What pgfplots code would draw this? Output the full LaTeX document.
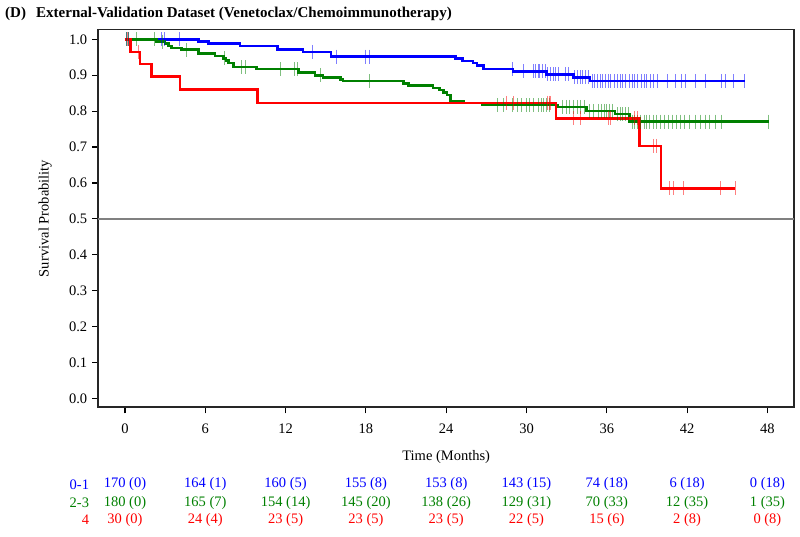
\documentclass[border=0pt]{standalone}
\usepackage{fontspec}
\setmainfont{Liberation Serif}
\usepackage{pgfplots}
\pgfplotsset{compat=1.18}
\definecolor{kmblue}{RGB}{0,0,255}
\definecolor{kmgreen}{RGB}{0,128,0}
\definecolor{kmred}{RGB}{255,0,0}

\begin{document}
\fontsize{14.5}{17}\selectfont
\begin{tikzpicture}
\begin{axis}[
  name=ax, at={(0,0)}, anchor=south west,
  width=696pt, height=377.6pt, scale only axis,
  xmin=-2, xmax=50, ymin=-0.025, ymax=1.027,
  xtick={0,6,12,18,24,30,36,42,48},
  ytick={0,0.1,0.2,0.3,0.4,0.5,0.6,0.7,0.8,0.9,1.0},
  yticklabel style={/pgf/number format/.cd, fixed, fixed zerofill, precision=1},
  xticklabel style={yshift=-6pt},
  /pgf/number format/assume math mode=true,
  tick align=outside, tick pos=left,
  major tick length=6pt,
  tick style={black, line width=1.2pt},
  axis line style={black!85, line width=1.6pt},
  clip=false,
  ylabel={Survival Probability},
  ylabel style={at={(rel axis cs:0,0.5)}, anchor=center, yshift=53pt},
  xlabel={Time (Months)},
  xlabel style={at={(rel axis cs:0.5,0)}, anchor=center, yshift=-49.5pt},
  censor/.style={only marks, mark=|, mark size=7pt, opacity=0.5, mark options={line width=1pt}},
]
% reference line
\addplot[gray, line width=1.3pt] coordinates {(-2,0.5) (50,0.5)};

% 0-1
\addplot[kmblue, const plot, line width=2.6pt] coordinates {
(0,1) (5.48,0.994) (6.23,0.988) (8.6,0.982) (11.4,0.971) (13.3,0.965) (15.4,0.952)
(24.7,0.946) (25.2,0.940) (26.0,0.934) (26.3,0.928) (26.8,0.917) (29.0,0.911)
(31.5,0.903) (33.5,0.894) (34.75,0.884) (46.3,0.884)};
\addplot[kmblue, censor] coordinates {
(0.1,1) (0.25,1) (2.74,1) (2.99,1) (4.06,1) (14.0,0.965) (15.8,0.952) (18.0,0.952) (18.3,0.952)
(28.95,0.917) (29.8,0.911) (30.5,0.911) (30.7,0.911) (30.9,0.911) (31.0,0.911) (31.2,0.911) (31.4,0.911)
(31.6,0.903) (31.8,0.903) (32.0,0.903) (32.2,0.903) (32.4,0.903) (32.9,0.903) (33.1,0.903)
(33.6,0.894) (33.8,0.894) (34.0,0.894) (34.2,0.894) (34.4,0.894) (34.6,0.894)
(34.9,0.884) (35.1,0.884) (35.3,0.884) (35.5,0.884) (35.7,0.884) (35.9,0.884) (36.1,0.884) (36.3,0.884)
(36.6,0.884) (36.8,0.884) (37.0,0.884) (37.2,0.884) (37.4,0.884) (37.7,0.884) (37.9,0.884) (38.1,0.884)
(38.3,0.884) (38.6,0.884) (38.8,0.884) (39.0,0.884) (39.3,0.884) (39.5,0.884) (39.8,0.884) (40.5,0.884)
(41.1,0.884) (41.6,0.884) (41.9,0.884) (42.6,0.884) (43.4,0.884) (44.6,0.884) (44.9,0.884) (45.5,0.884)
(46.3,0.884)};

% 2-3
\addplot[kmgreen, const plot, line width=2.6pt] coordinates {
(0,1) (2.37,0.994) (3.0,0.988) (3.24,0.982) (3.49,0.976) (4.24,0.971) (5.48,0.960) (6.73,0.954)
(7.35,0.947) (7.55,0.941) (7.72,0.934) (8.1,0.923) (9.84,0.917) (12.95,0.908) (14.2,0.900)
(14.8,0.894) (16.1,0.889) (16.3,0.884) (20.8,0.877) (21.2,0.871) (23.0,0.865) (23.5,0.859)
(23.8,0.852) (24.05,0.845) (24.3,0.828) (25.3,0.823) (26.66,0.817) (32.3,0.812) (34.5,0.801)
(36.6,0.792) (37.7,0.771) (48.1,0.771)};
\addplot[kmgreen, censor] coordinates {
(0.15,1) (0.3,1) (0.87,1) (2.2,1) (2.82,0.994) (4.56,0.971) (7.47,0.947) (8.67,0.923) (9.0,0.923)
(11.6,0.917) (12.7,0.917) (12.9,0.917) (14.6,0.900) (18.3,0.884)
(27.8,0.817) (28.3,0.817) (28.97,0.817) (29.3,0.817) (29.65,0.817) (30.0,0.817) (30.2,0.817)
(30.5,0.817) (30.9,0.817) (31.1,0.817) (31.3,0.817) (31.5,0.817) (31.7,0.817)
(32.7,0.812) (33.0,0.812) (33.2,0.812) (33.5,0.812) (33.8,0.812) (34.0,0.812) (34.3,0.812)
(34.7,0.801) (35.0,0.801) (35.4,0.801) (35.6,0.801) (35.8,0.801) (36.0,0.801) (36.2,0.801) (36.4,0.801)
(36.8,0.792) (37.0,0.792) (37.2,0.792) (37.4,0.792) (37.6,0.792)
(37.9,0.771) (38.1,0.771) (38.3,0.771) (38.5,0.771) (38.8,0.771) (39.0,0.771) (39.2,0.771) (39.5,0.771)
(39.7,0.771) (40.0,0.771) (40.3,0.771) (40.6,0.771) (40.9,0.771) (41.2,0.771) (41.5,0.771) (41.8,0.771)
(42.2,0.771) (42.6,0.771) (43.0,0.771) (43.4,0.771) (43.7,0.771) (44.1,0.771) (44.6,0.771) (48.1,0.771)};

% 4
\addplot[kmred, const plot, line width=2.6pt] coordinates {
(0,1) (0.42,0.965) (1.12,0.931) (1.99,0.896) (4.11,0.861) (9.89,0.823) (32.2,0.780)
(38.44,0.703) (40.06,0.585) (45.6,0.585)};
\addplot[kmred, censor] coordinates {
(0.2,1) (1.0,0.965) (28.5,0.823) (29.0,0.823) (31.6,0.823) (31.7,0.823) (31.8,0.823)
(33.5,0.780) (34.0,0.780) (36.1,0.780) (36.3,0.780) (38.1,0.780) (38.3,0.780)
(39.5,0.703) (39.7,0.703) (40.7,0.585) (41.0,0.585) (41.7,0.585) (44.5,0.585) (45.6,0.585)};

% numbers at risk (cumulative events)
\node[kmblue, anchor=east, inner sep=0pt] at (axis cs:-2.67,-0.2395) {0-1};
\node[kmgreen, anchor=east, inner sep=0pt] at (axis cs:-2.67,-0.2915) {2-3};
\node[kmred, anchor=east, inner sep=0pt] at (axis cs:-2.67,-0.3395) {4};

\node[kmblue] at (axis cs:0,-0.2395) {170 (0)};
\node[kmblue] at (axis cs:6,-0.2395) {164 (1)};
\node[kmblue] at (axis cs:12,-0.2395) {160 (5)};
\node[kmblue] at (axis cs:18,-0.2395) {155 (8)};
\node[kmblue] at (axis cs:24,-0.2395) {153 (8)};
\node[kmblue] at (axis cs:30,-0.2395) {143 (15)};
\node[kmblue] at (axis cs:36,-0.2395) {74 (18)};
\node[kmblue] at (axis cs:42,-0.2395) {6 (18)};
\node[kmblue] at (axis cs:48,-0.2395) {0 (18)};

\node[kmgreen] at (axis cs:0,-0.2915) {180 (0)};
\node[kmgreen] at (axis cs:6,-0.2915) {165 (7)};
\node[kmgreen] at (axis cs:12,-0.2915) {154 (14)};
\node[kmgreen] at (axis cs:18,-0.2915) {145 (20)};
\node[kmgreen] at (axis cs:24,-0.2915) {138 (26)};
\node[kmgreen] at (axis cs:30,-0.2915) {129 (31)};
\node[kmgreen] at (axis cs:36,-0.2915) {70 (33)};
\node[kmgreen] at (axis cs:42,-0.2915) {12 (35)};
\node[kmgreen] at (axis cs:48,-0.2915) {1 (35)};

\node[kmred] at (axis cs:0,-0.3395) {30 (0)};
\node[kmred] at (axis cs:6,-0.3395) {24 (4)};
\node[kmred] at (axis cs:12,-0.3395) {23 (5)};
\node[kmred] at (axis cs:18,-0.3395) {23 (5)};
\node[kmred] at (axis cs:24,-0.3395) {23 (5)};
\node[kmred] at (axis cs:30,-0.3395) {22 (5)};
\node[kmred] at (axis cs:36,-0.3395) {15 (6)};
\node[kmred] at (axis cs:42,-0.3395) {2 (8)};
\node[kmred] at (axis cs:48,-0.3395) {0 (8)};
\end{axis}

\node[anchor=base west, font=\fontsize{15}{17}\selectfont\bfseries, inner sep=0pt] at (-93.2pt,390pt) {(D)};
\node[anchor=base west, font=\fontsize{15}{17}\selectfont\bfseries, inner sep=0pt] at (-62.2pt,390pt) {External-Validation Dataset (Venetoclax/Chemoimmunotherapy)};

\pgfresetboundingbox
\path (-98.2pt,-129.7pt) rectangle (701.8pt,407.3pt);
\end{tikzpicture}
\end{document}
